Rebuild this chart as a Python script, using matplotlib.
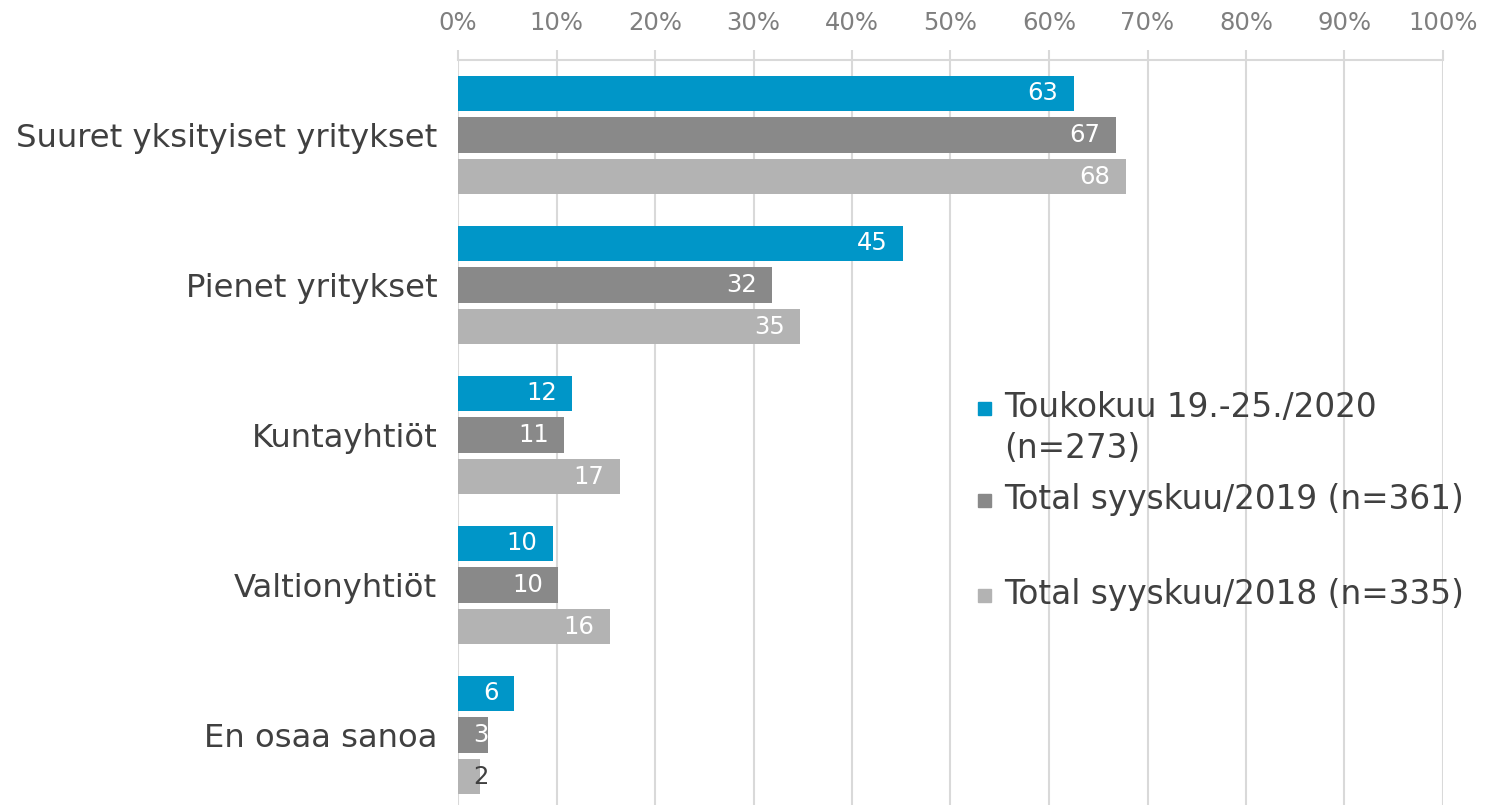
import matplotlib.pyplot as plt
import numpy as np
from matplotlib.patches import Rectangle
from matplotlib.ticker import PercentFormatter

categories = ["Suuret yksityiset yritykset", "Pienet yritykset", "Kuntayhtiöt",
              "Valtionyhtiöt", "En osaa sanoa"]
series_names = ["Toukokuu 19.-25./2020\n(n=273)",
                "Total syyskuu/2019 (n=361)",
                "Total syyskuu/2018 (n=335)"]
values_2020 = [62.5, 45.2, 11.6, 9.6, 5.7]
values_2019 = [66.8, 31.9, 10.8, 10.2, 3.0]
values_2018 = [67.8, 34.7, 16.4, 15.4, 2.2]
labels_2020 = [63, 45, 12, 10, 6]
labels_2019 = [67, 32, 11, 10, 3]
labels_2018 = [68, 35, 17, 16, 2]

colors = ["#0096C8", "#898989", "#B3B3B3"]
text_dark = "#404040"

fig = plt.figure(figsize=(14.86, 8.05), dpi=100)
ax = fig.add_axes([458 / 1486, 0, 985 / 1486, 1 - 60 / 805])

y = np.arange(len(categories))
offsets = [-0.277, 0, 0.277]
h = 0.237
all_vals = [values_2020, values_2019, values_2018]
all_labels = [labels_2020, labels_2019, labels_2018]

for vals, labs, off, col in zip(all_vals, all_labels, offsets, colors):
    bars = ax.barh(y + off, vals, height=h, color=col, zorder=3)
    for b, v, lab in zip(bars, vals, labs):
        yc = b.get_y() + h / 2
        if v > 4:
            ax.annotate(str(lab), (v, yc), xytext=(-11, 0), textcoords="offset points",
                        ha="right", va="center", color="white", fontsize=17.5, zorder=4)
        else:
            c = "white" if v > 2.5 else text_dark
            ax.text(2.35, yc, str(lab), ha="center", va="center",
                    color=c, fontsize=17.5, zorder=4)

ax.set_xlim(0, 100)
ax.set_ylim(-0.5 + 745 / 150, -0.5)
ax.set_xticks(np.arange(0, 101, 10))
ax.xaxis.set_major_formatter(PercentFormatter(decimals=0))
ax.xaxis.tick_top()
ax.tick_params(axis="x", direction="out", length=7, width=1.5, color="#D9D9D9",
               labelcolor="#7F7F7F", labelsize=17.5, pad=11)
ax.set_yticks(y)
ax.set_yticklabels(categories, fontsize=23.2, color=text_dark)
ax.tick_params(axis="y", length=0, pad=15)
ax.grid(axis="x", color="#D9D9D9", linewidth=1.5, zorder=0)
for s in ["right", "bottom", "left"]:
    ax.spines[s].set_visible(False)
ax.spines["top"].set_color("#D9D9D9")
ax.spines["top"].set_linewidth(1.5)

# legend drawn by hand to keep Excel-like placement
leg_y = [408, 500, 595]
for name, col, ly in zip(series_names, colors, leg_y):
    fig.patches.append(Rectangle((978 / 1486, 1 - (ly + 7) / 805), 13 / 1486, 13 / 805,
                                 transform=fig.transFigure, color=col))
    fig.text(1004 / 1486, 1 - (ly - 17) / 805, name, ha="left", va="top",
             fontsize=23.6, color=text_dark, linespacing=1.3)

fig.savefig("out.png", dpi=100)
